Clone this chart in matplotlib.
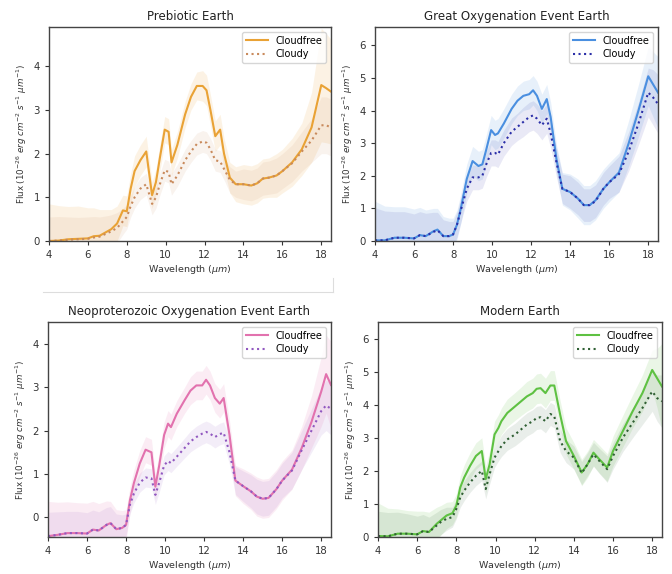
import matplotlib
matplotlib.use('Agg')
import matplotlib.pyplot as plt
from matplotlib.lines import Line2D
import numpy as np

# wavelength grid (micron), shared by all four panels
wl = [4.0, 4.5, 5.0, 5.5, 6.0, 6.3, 6.6, 7.0, 7.2, 7.5, 7.8, 8.0, 8.2, 8.4, 8.7,
      9.0, 9.3, 9.5, 9.7, 9.95, 10.15, 10.3, 10.6, 11.0, 11.3, 11.6, 11.9, 12.1,
      12.3, 12.55, 12.8, 13.0, 13.3, 13.6, 14.0, 14.4, 14.7, 15.0, 15.3, 15.7,
      16.0, 16.5, 17.0, 17.5, 18.0, 18.25, 18.5]

# Prebiotic Earth
pre_cf = [0.0, 0.01, 0.04, 0.05, 0.06, 0.11, 0.12, 0.22, 0.27, 0.4, 0.7, 0.68, 1.2, 1.6, 1.85,
          2.05, 1.05, 1.35, 1.9, 2.55, 2.5, 1.8, 2.2, 2.9, 3.3, 3.55, 3.55, 3.45,
          3.0, 2.4, 2.55, 2.0, 1.45, 1.3, 1.3, 1.27, 1.32, 1.43, 1.45, 1.5,
          1.6, 1.8, 2.1, 2.6, 3.57, 3.5, 3.42]
pre_cf_err = [0.85, 0.8, 0.75, 0.75, 0.7, 0.65, 0.6, 0.5, 0.45, 0.4, 0.35, 0.35, 0.35, 0.35, 0.35,
              0.35, 0.3, 0.3, 0.3, 0.3, 0.3, 0.3, 0.3, 0.3, 0.3, 0.32, 0.35, 0.35,
              0.35, 0.35, 0.35, 0.35, 0.35, 0.4, 0.45, 0.45, 0.45, 0.45, 0.45, 0.5,
              0.5, 0.55, 0.6, 0.8, 1.3, 1.25, 1.2]
pre_cl = [0.0, 0.01, 0.03, 0.04, 0.05, 0.08, 0.1, 0.18, 0.22, 0.3, 0.45, 0.55, 0.8, 1.0, 1.2,
          1.3, 0.85, 1.0, 1.3, 1.62, 1.58, 1.3, 1.5, 1.85, 2.05, 2.22, 2.28, 2.25,
          2.1, 1.85, 1.82, 1.65, 1.4, 1.3, 1.3, 1.27, 1.32, 1.43, 1.45, 1.5,
          1.6, 1.78, 2.05, 2.3, 2.65, 2.65, 2.6]
pre_cl_err = [0.55, 0.55, 0.52, 0.5, 0.5, 0.48, 0.45, 0.4, 0.38, 0.35, 0.3, 0.28, 0.25, 0.25, 0.25,
              0.25, 0.25, 0.25, 0.25, 0.25, 0.25, 0.25, 0.25, 0.25, 0.25, 0.25, 0.25, 0.25,
              0.25, 0.25, 0.25, 0.25, 0.3, 0.3, 0.35, 0.35, 0.35, 0.38, 0.38, 0.4,
              0.4, 0.42, 0.45, 0.5, 0.65, 0.65, 0.65]

# Great Oxygenation Event Earth
goe_cf = [0.02, 0.02, 0.1, 0.1, 0.08, 0.18, 0.15, 0.3, 0.35, 0.15, 0.15, 0.2, 0.5, 1.0, 1.9,
          2.45, 2.3, 2.35, 2.8, 3.4, 3.25, 3.3, 3.6, 4.05, 4.3, 4.45, 4.5, 4.62,
          4.45, 4.05, 4.35, 3.8, 2.5, 1.6, 1.5, 1.3, 1.1, 1.1, 1.25, 1.6,
          1.8, 2.1, 3.0, 4.0, 5.05, 4.8, 4.55]
goe_cf_err = [1.2, 1.05, 0.95, 0.95, 0.9, 0.85, 0.8, 0.7, 0.65, 0.6, 0.55, 0.5, 0.45, 0.45, 0.45,
              0.45, 0.45, 0.45, 0.45, 0.45, 0.45, 0.45, 0.45, 0.45, 0.45, 0.45, 0.45, 0.45,
              0.45, 0.45, 0.45, 0.45, 0.45, 0.5, 0.55, 0.6, 0.6, 0.6, 0.6, 0.6,
              0.6, 0.6, 0.7, 0.8, 0.9, 1.0, 1.1]
goe_cl = [0.02, 0.02, 0.1, 0.1, 0.08, 0.18, 0.15, 0.28, 0.33, 0.15, 0.15, 0.2, 0.5, 0.95, 1.6,
          1.95, 1.95, 2.0, 2.35, 2.7, 2.7, 2.65, 3.0, 3.35, 3.5, 3.65, 3.8, 3.85,
          3.75, 3.55, 3.75, 3.3, 2.4, 1.6, 1.5, 1.3, 1.1, 1.1, 1.22, 1.6,
          1.8, 2.05, 2.75, 3.6, 4.55, 4.4, 4.2]
goe_cl_err = [1.0, 0.9, 0.8, 0.8, 0.75, 0.72, 0.7, 0.6, 0.55, 0.5, 0.45, 0.4, 0.38, 0.38, 0.38,
              0.38, 0.38, 0.38, 0.4, 0.4, 0.4, 0.4, 0.4, 0.42, 0.42, 0.45, 0.45, 0.45,
              0.45, 0.45, 0.45, 0.45, 0.45, 0.45, 0.5, 0.5, 0.5, 0.5, 0.5, 0.5,
              0.5, 0.55, 0.6, 0.65, 0.75, 0.85, 0.9]

# Neoproterozoic Oxygenation Event Earth
neo_cf = [-0.43, -0.4, -0.36, -0.36, -0.37, -0.28, -0.3, -0.17, -0.13, -0.27, -0.24, -0.17, 0.4, 0.79, 1.24,
          1.56, 1.5, 0.71, 1.2, 1.9, 2.16, 2.08, 2.39, 2.7, 2.92, 3.04, 3.04, 3.17,
          3.04, 2.75, 2.62, 2.75, 1.9, 0.85, 0.72, 0.6, 0.48, 0.43, 0.45, 0.65,
          0.85, 1.1, 1.6, 2.2, 2.9, 3.3, 3.05]
neo_cf_err = [0.8, 0.75, 0.72, 0.7, 0.7, 0.65, 0.62, 0.55, 0.5, 0.45, 0.4, 0.35, 0.3, 0.3, 0.3,
              0.3, 0.3, 0.3, 0.3, 0.3, 0.3, 0.3, 0.3, 0.3, 0.32, 0.33, 0.33, 0.33,
              0.33, 0.33, 0.33, 0.33, 0.33, 0.35, 0.4, 0.42, 0.45, 0.45, 0.45, 0.45,
              0.45, 0.45, 0.5, 0.6, 0.8, 0.9, 1.0]
neo_cl = [-0.43, -0.4, -0.36, -0.36, -0.37, -0.28, -0.3, -0.17, -0.13, -0.27, -0.24, -0.17, 0.3, 0.55, 0.8,
          0.92, 0.9, 0.52, 0.8, 1.2, 1.3, 1.25, 1.4, 1.6, 1.75, 1.85, 1.93, 1.97,
          1.93, 1.85, 1.92, 1.95, 1.5, 0.85, 0.72, 0.6, 0.48, 0.43, 0.45, 0.65,
          0.85, 1.08, 1.55, 2.0, 2.45, 2.58, 2.5]
neo_cl_err = [0.55, 0.53, 0.5, 0.5, 0.48, 0.45, 0.43, 0.4, 0.38, 0.35, 0.3, 0.25, 0.22, 0.22, 0.22,
              0.22, 0.22, 0.22, 0.22, 0.22, 0.22, 0.22, 0.22, 0.23, 0.24, 0.25, 0.25, 0.25,
              0.25, 0.25, 0.25, 0.25, 0.28, 0.32, 0.35, 0.38, 0.4, 0.4, 0.4, 0.4,
              0.4, 0.42, 0.45, 0.5, 0.55, 0.58, 0.6]

# Modern Earth
mod_cf = [0.03, 0.02, 0.1, 0.1, 0.08, 0.18, 0.15, 0.4, 0.5, 0.65, 0.72, 0.95, 1.5, 1.8, 2.15,
          2.45, 2.6, 1.75, 2.2, 3.1, 3.3, 3.5, 3.75, 3.95, 4.1, 4.25, 4.35, 4.48,
          4.5, 4.35, 4.58, 4.58, 3.7, 2.9, 2.45, 1.95, 2.2, 2.55, 2.35, 2.1,
          2.6, 3.2, 3.8, 4.35, 5.05, 4.8, 4.55]
mod_cf_err = [1.0, 0.85, 0.75, 0.7, 0.7, 0.6, 0.6, 0.5, 0.45, 0.4, 0.35, 0.35, 0.35, 0.38, 0.4,
              0.4, 0.4, 0.4, 0.4, 0.4, 0.4, 0.4, 0.42, 0.42, 0.43, 0.45, 0.45, 0.45,
              0.45, 0.45, 0.45, 0.45, 0.42, 0.4, 0.4, 0.4, 0.4, 0.4, 0.42, 0.42,
              0.45, 0.48, 0.5, 0.55, 0.6, 0.9, 1.3]
mod_cl = [0.03, 0.02, 0.1, 0.1, 0.08, 0.18, 0.15, 0.35, 0.45, 0.55, 0.6, 0.85, 1.2, 1.4, 1.65,
          1.85, 2.0, 1.45, 1.9, 2.4, 2.6, 2.75, 2.95, 3.1, 3.25, 3.4, 3.5, 3.6,
          3.62, 3.5, 3.72, 3.65, 2.9, 2.6, 2.4, 1.93, 2.2, 2.5, 2.3, 2.05,
          2.45, 3.0, 3.45, 3.9, 4.4, 4.2, 4.1]
mod_cl_err = [0.75, 0.72, 0.65, 0.6, 0.55, 0.5, 0.45, 0.4, 0.38, 0.35, 0.3, 0.3, 0.3, 0.3, 0.3,
              0.3, 0.3, 0.3, 0.3, 0.3, 0.3, 0.32, 0.33, 0.34, 0.35, 0.35, 0.35, 0.35,
              0.35, 0.35, 0.35, 0.35, 0.35, 0.35, 0.35, 0.35, 0.35, 0.36, 0.38, 0.4,
              0.4, 0.42, 0.45, 0.5, 0.6, 0.7, 0.8]

W, H = 672, 574
fig = plt.figure(figsize=(W / 100, H / 100), dpi=100)

panels = [
    # title, cf, cf_err, cl, cl_err, cf colour, cl colour, box (l, r, t, b px), ylim, yticks
    ('Prebiotic Earth', pre_cf, pre_cf_err, pre_cl, pre_cl_err,
     '#e9a235', '#c98a5c', (49, 331, 27, 241), (0, 4.9), [0, 1, 2, 3, 4]),
    ('Great Oxygenation Event Earth', goe_cf, goe_cf_err, goe_cl, goe_cl_err,
     '#4a8fe0', '#2b2fa8', (375, 658, 27, 241), (0, 6.56), [0, 1, 2, 3, 4, 5, 6]),
    ('Neoproterozoic Oxygenation Event Earth', neo_cf, neo_cf_err, neo_cl, neo_cl_err,
     '#e272ae', '#9158c0', (48, 331, 322, 537), (-0.45, 4.5), [0, 1, 2, 3, 4]),
    ('Modern Earth', mod_cf, mod_cf_err, mod_cl, mod_cl_err,
     '#5ec142', '#2f5f33', (378, 662, 322, 537), (0, 6.5), [0, 1, 2, 3, 4, 5, 6]),
]

x = np.array(wl)
for title, cf, cfe, cl, cle, c1, c2, box, ylim, yt in panels:
    l, r, t, b = box
    ax = fig.add_axes([l / W, 1 - b / H, (r - l) / W, (b - t) / H])
    cf = np.array(cf); cfe = np.array(cfe)
    cl = np.array(cl); cle = np.array(cle)
    ax.fill_between(x, cf - cfe, cf + cfe, color=c1, alpha=0.13, lw=0)
    ax.fill_between(x, cl - cle, cl + cle, color=c2, alpha=0.1, lw=0)
    ax.plot(x, cf, '-', color=c1, lw=1.5, label='Cloudfree')
    ax.plot(x, cl, ':', color=c2, lw=1.5, label='Cloudy')
    ax.set_xlim(4, 18.5)
    ax.set_ylim(*ylim)
    ax.set_xticks([4, 6, 8, 10, 12, 14, 16, 18])
    ax.set_yticks(yt)
    ax.tick_params(labelsize=7.3, colors='#333333', length=3, width=0.8)
    for s in ax.spines.values():
        s.set_color('#444444')
        s.set_linewidth(1.0)
    ax.set_title(title, fontsize=8.5, color='#222222', pad=5)
    ax.set_xlabel(r'Wavelength ($\mu m$)', fontsize=6.8, color='#333333', labelpad=2)
    ax.set_ylabel(r'Flux ($10^{-26}$ $erg\ cm^{-2}\ s^{-1}\ \mu m^{-1}$)',
                  fontsize=6.3, color='#333333', labelpad=3)
    ax.legend(loc='upper right', fontsize=7, handlelength=2.2, borderpad=0.4,
              labelspacing=0.35, framealpha=0.8, edgecolor='#cccccc')

# faint frame edge left over from the pasted panel
fig.add_artist(Line2D([43 / W, 333 / W], [1 - 292 / H, 1 - 292 / H], color='#dddddd', lw=0.8))
fig.add_artist(Line2D([333 / W, 333 / W], [1 - 278 / H, 1 - 292 / H], color='#dddddd', lw=0.8))

plt.savefig('out.png', dpi=100)
